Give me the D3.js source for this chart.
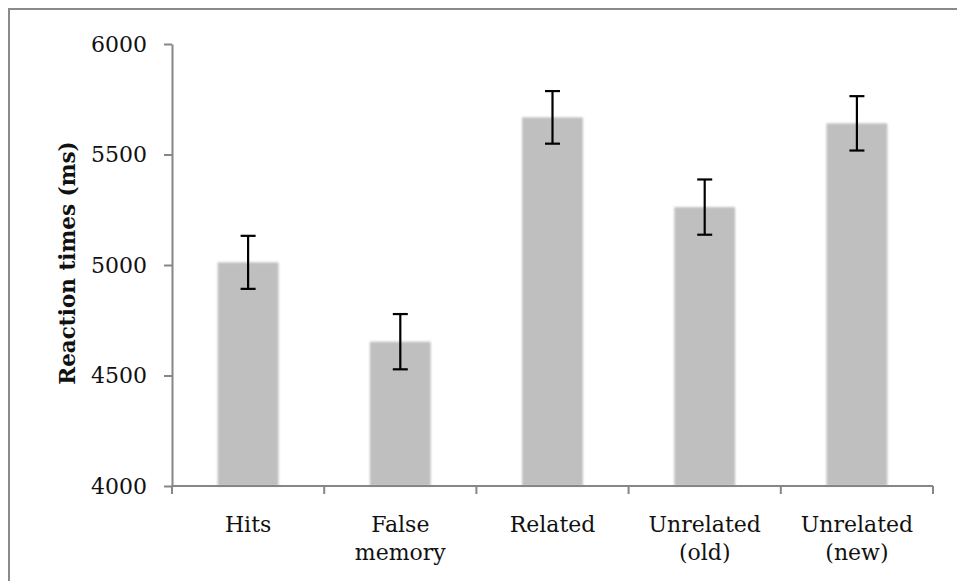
<!DOCTYPE html>
<html lang="en">
<head>
<meta charset="UTF-8">
<title>Reaction times</title>
<script src="https://d3js.org/d3.v7.min.js"></script>
<style>
  body { margin: 0; background: #fff; }
  svg text { font-family: "DejaVu Serif", serif; fill: #111; }
</style>
</head>
<body>
<svg width="957" height="581"></svg>
<script>
  // data
  var categories = ["Hits", "False\nmemory", "Related", "Unrelated\n(old)", "Unrelated\n(new)"];
  var means = [5012, 4653, 5668, 5262, 5641];
  var errors = [120, 125, 119, 125, 123];
  var yTicks = [4000, 4500, 5000, 5500, 6000];

  var svg = d3.select("svg");
  var margin = {top: 44, right: 24, bottom: 95, left: 172};
  var width = 957 - margin.left - margin.right;
  var height = 581 - margin.top - margin.bottom;

  // outer frame
  svg.append("rect")
      .attr("x", 9).attr("y", 9)
      .attr("width", 960).attr("height", 600)
      .attr("fill", "none")
      .attr("stroke", "#8a8a8a")
      .attr("stroke-width", 2);

  var defs = svg.append("defs");
  var blur = defs.append("filter").attr("id", "soft")
      .attr("x", "-10%").attr("width", "120%");
  blur.append("feGaussianBlur").attr("stdDeviation", 0.8);

  var g = svg.append("g").attr("transform", "translate(" + margin.left + "," + margin.top + ")");

  var x = d3.scaleBand()
      .domain(categories)
      .range([0, width])
      .paddingInner(0.6)
      .paddingOuter(0.3);

  var y = d3.scaleLinear().domain([4000, 6000]).range([height, 0]);

  // bars
  g.selectAll(".bar")
      .data(means)
      .enter().append("rect")
      .attr("class", "bar")
      .attr("x", function(d, i) { return x(categories[i]); })
      .attr("y", function(d) { return y(d); })
      .attr("width", x.bandwidth())
      .attr("height", function(d) { return height - y(d); })
      .attr("fill", "#bfbfbf")
      .attr("filter", "url(#soft)");

  // error bars
  var capHalf = 7.5;
  var eb = g.selectAll(".err")
      .data(means)
      .enter().append("g")
      .attr("class", "err")
      .attr("stroke", "#000")
      .attr("stroke-width", 2.2);
  eb.append("line")
      .attr("x1", function(d, i) { return x(categories[i]) + x.bandwidth() / 2; })
      .attr("x2", function(d, i) { return x(categories[i]) + x.bandwidth() / 2; })
      .attr("y1", function(d, i) { return y(d + errors[i]); })
      .attr("y2", function(d, i) { return y(d - errors[i]); });
  [1, -1].forEach(function(s) {
    eb.append("line")
        .attr("x1", function(d, i) { return x(categories[i]) + x.bandwidth() / 2 - capHalf; })
        .attr("x2", function(d, i) { return x(categories[i]) + x.bandwidth() / 2 + capHalf; })
        .attr("y1", function(d, i) { return y(d + s * errors[i]); })
        .attr("y2", function(d, i) { return y(d + s * errors[i]); });
  });

  // y axis
  var yAxis = g.append("g")
      .call(d3.axisLeft(y).tickValues(yTicks).tickFormat(d3.format("d"))
        .tickSize(8).tickSizeOuter(0).tickPadding(17));
  yAxis.selectAll("line, path").attr("stroke", "#868686").attr("stroke-width", 2);
  yAxis.selectAll("text").style("font-size", "22px").attr("fill", "#111");

  // x axis with ticks at band boundaries
  var xAxis = g.append("g").attr("transform", "translate(0," + height + ")");
  xAxis.append("line")
      .attr("x1", 0).attr("x2", width)
      .attr("stroke", "#868686").attr("stroke-width", 2);
  var bounds = d3.range(categories.length + 1).map(function(i) {
    return i < categories.length ? x(categories[i]) - x.step() * x.paddingInner() / 2 : width;
  });
  bounds[0] = 0;
  xAxis.selectAll(".tk")
      .data(bounds)
      .enter().append("line")
      .attr("x1", function(d) { return d; })
      .attr("x2", function(d) { return d; })
      .attr("y1", 0).attr("y2", 8)
      .attr("stroke", "#868686").attr("stroke-width", 2);

  var labels = xAxis.selectAll(".lbl")
      .data(categories)
      .enter().append("text")
      .attr("text-anchor", "middle")
      .style("font-size", "22px")
      .attr("transform", function(d) { return "translate(" + (x(d) + x.bandwidth() / 2) + ",46)"; });
  labels.each(function(d) {
    var t = d3.select(this);
    d.split("\n").forEach(function(line, k) {
      t.append("tspan").attr("x", 0).attr("y", k * 28).text(line);
    });
  });

  // y axis title
  svg.append("text")
      .attr("transform", "translate(75," + (margin.top + height / 2 - 2) + ") rotate(-90)")
      .attr("text-anchor", "middle")
      .style("font-size", "21.5px")
      .style("font-weight", "bold")
      .text("Reaction times (ms)");
</script>
</body>
</html>
